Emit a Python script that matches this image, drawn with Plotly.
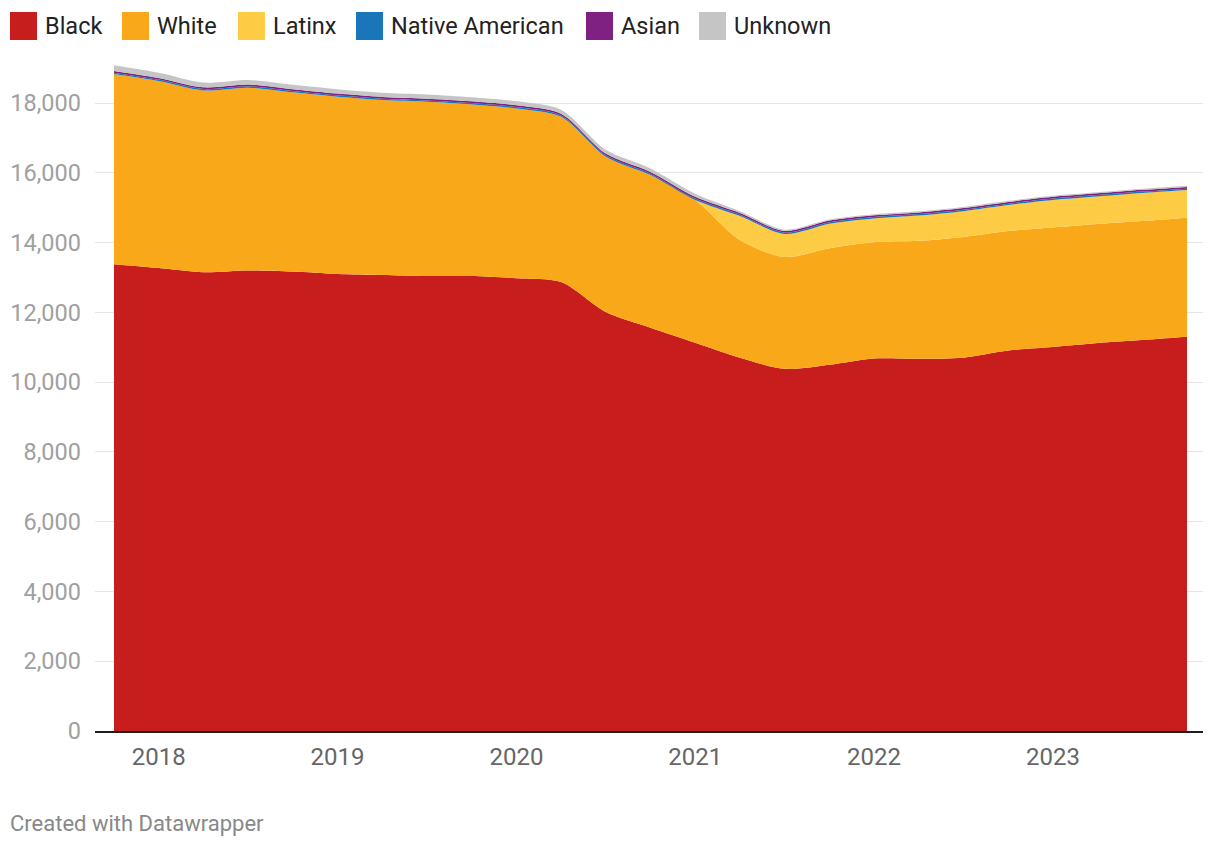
import plotly.graph_objects as go

# Quarterly dates (decimal years)
dates = [2017.75 + 0.25 * i for i in range(25)]

black = [13380, 13270, 13150, 13200, 13170, 13100, 13070, 13040, 13040, 12980,
         12870, 12010, 11560, 11130, 10700, 10380, 10500, 10680, 10670, 10700,
         10905, 11005, 11120, 11205, 11300]
white = [5450, 5360, 5210, 5240, 5135, 5080, 5015, 4995, 4920, 4865,
         4735, 4450, 4375, 4090, 3370, 3205, 3340, 3330, 3380, 3460,
         3425, 3425, 3410, 3410, 3410]
latinx = [0, 0, 0, 0, 0, 0, 0, 0, 0, 0,
          0, 0, 0, 0, 690, 660, 700, 680, 725, 740,
          745, 790, 790, 805, 795]
native = [40] * 25
asian = [50] * 25
unknown = [160, 145, 135, 130, 125, 125, 120, 120, 115, 115,
           115, 110, 100, 90, 50, 35, 30, 30, 30, 30,
           30, 30, 30, 30, 30]

series = [
    ("Black", black, "#c71e1d"),
    ("White", white, "#f8a818"),
    ("Latinx", latinx, "#fecb45"),
    ("Native American", native, "#1a76b9"),
    ("Asian", asian, "#7f2182"),
    ("Unknown", unknown, "#c5c5c5"),
]

year_ticks = [2018, 2019, 2020, 2021, 2022, 2023]
year_labels = ["2018", "2019", "2020", "2021", "2022", "2023"]
y_ticks = list(range(0, 18001, 2000))
y_labels = [f"{v:,}" for v in y_ticks]

# The page body has an 8px margin; work in page pixels and offset.
OFF = 8
W, H = 1220 - OFF, 848 - OFF
PL, PR, PT, PB = 95, 1203, 60, 731  # plot area in page pixels
ml, mr, mt, mb = PL - OFF, W - (PR - OFF), PT - OFF, H - (PB - OFF)

fig = go.Figure()
for name, vals, col in series:
    fig.add_trace(go.Scatter(
        x=dates, y=vals, name=name, stackgroup="one", mode="lines",
        line=dict(width=0, shape="spline", smoothing=0.8, color=col),
        fillcolor=col, showlegend=False, hoverinfo="x+y+name",
    ))

px_per_year = (1187 - 114) / 6.0
x0 = 2017.75 - (114 - PL) / px_per_year
x1 = 2023.75 + (PR - 1187) / px_per_year
ymax = (PB - PT) * 18000 / 628.0

fig.update_layout(
    width=W, height=H,
    margin=dict(l=ml, r=mr, t=mt, b=mb, pad=0, autoexpand=False),
    paper_bgcolor="white", plot_bgcolor="white",
    font=dict(family="Roboto", size=23, color="#333333"),
    xaxis=dict(range=[x0, x1], tickvals=year_ticks, ticktext=year_labels,
               showgrid=False, zeroline=False, showline=True, automargin=False,
               linecolor="#1d1d1d", linewidth=2, layer="above traces",
               ticks="", ticklabelstandoff=3,
               tickfont=dict(family="Roboto", size=24, color="#666666")),
    yaxis=dict(range=[0, ymax], tickvals=y_ticks, ticktext=y_labels,
               showgrid=True, gridcolor="#e6e6e6", gridwidth=1, automargin=False,
               zeroline=False, showline=False, ticks="",
               ticklabelstandoff=13,
               tickfont=dict(family="Roboto", size=23.5, color="#a0a0a0")),
)

def px_x(p):
    return (p - PL) / (PR - PL)

def px_y(p):
    return 1 - (p - PT) / (PB - PT)

legend_pos = [10, 122, 238, 356, 586, 699]
shapes = []
annotations = []
for (name, vals, col), lx in zip(series, legend_pos):
    shapes.append(dict(type="rect", xref="paper", yref="paper",
                       x0=px_x(lx), x1=px_x(lx + 27), y0=px_y(40), y1=px_y(12),
                       fillcolor=col, line=dict(width=0)))
    annotations.append(dict(text=name, xref="paper", yref="paper",
                            x=px_x(lx + 33), y=px_y(26), xanchor="left",
                            yanchor="middle", showarrow=False,
                            font=dict(family="Roboto", size=23.5, color="#222222")))

annotations.append(dict(text="Created with Datawrapper", xref="paper", yref="paper",
                        x=px_x(8), y=px_y(823), xanchor="left", yanchor="middle",
                        showarrow=False,
                        font=dict(family="Roboto", size=22, color="#888888")))

fig.update_layout(shapes=shapes, annotations=annotations)
fig.write_html("out.html")
